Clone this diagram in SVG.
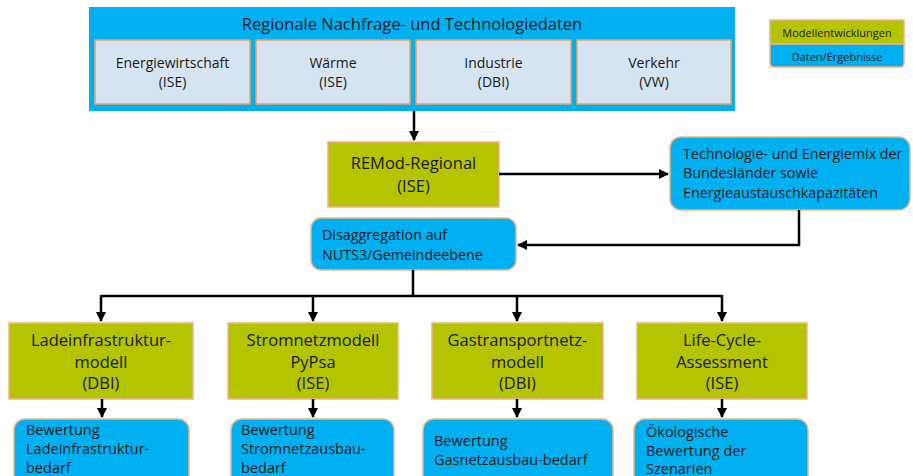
<svg xmlns="http://www.w3.org/2000/svg" width="913" height="476" viewBox="0 0 913 476">
<defs>
<marker id="ah" viewBox="0 0 10 10" refX="9" refY="5" markerWidth="4" markerHeight="4" orient="auto" markerUnits="strokeWidth">
<path d="M0,0 L10,5 L0,10 z" fill="#000"/>
</marker>
<style>
text{font-family:"Open Sans","Noto Sans","DejaVu Sans",sans-serif;fill:#1a1a1a}
.c{text-anchor:middle}
.blue{fill:#00B0F0}
.bluen{fill:#00B0F0;stroke:#F4B183;stroke-width:1.5}
.green{fill:#B4C400;stroke:#F4B183;stroke-width:1.5}
.light{fill:#D6E4F2;stroke:#F0A060;stroke-width:1.5}
.conn{fill:none;stroke:#000;stroke-width:2.5}
.t16{font-size:16.5px}
.t14{font-size:14px}
.t15{font-size:14.5px}
.t13{font-size:14.3px}
.t11{font-size:11px}
</style>
</defs>
<rect width="913" height="476" fill="#fff"/>

<g id="top">
<rect x="89" y="7" width="646" height="104" class="blue"/>
<text x="412" y="30" class="c t16">Regionale Nachfrage- und Technologiedaten</text>
</g>
<g id="energie">
<rect x="95" y="40" width="155" height="64" class="light"/>
<text x="172.5" y="68" class="c t14">Energiewirtschaft</text>
<text x="172.5" y="87" class="c t14">(ISE)</text>
</g>
<g id="waerme">
<rect x="256" y="40" width="154" height="64" class="light"/>
<text x="333" y="68" class="c t14">Wärme</text>
<text x="333" y="87" class="c t14">(ISE)</text>
</g>
<g id="industrie">
<rect x="416" y="40" width="155" height="64" class="light"/>
<text x="493.5" y="68" class="c t14">Industrie</text>
<text x="493.5" y="87" class="c t14">(DBI)</text>
</g>
<g id="verkehr">
<rect x="577" y="40" width="154" height="64" class="light"/>
<text x="654" y="68" class="c t14">Verkehr</text>
<text x="654" y="87" class="c t14">(VW)</text>
</g>

<g id="legend">
<rect x="770" y="20" width="134" height="24" class="green"/>
<text x="837" y="37" class="c t11">Modellentwicklungen</text>
<path d="M770,44 H904 V63 Q904,67 900,67 H774 Q770,67 770,63 Z" class="bluen"/>
<text x="837" y="61" class="c t11">Daten/Ergebnisse</text>
</g>

<g id="remod">
<rect x="328" y="142" width="171" height="65" class="green"/>
<text x="413.5" y="169" class="c t16">REMod-Regional</text>
<text x="413.5" y="192" class="c t16">(ISE)</text>
</g>

<g id="techmix">
<rect x="670" y="137" width="240" height="73" rx="11" class="bluen"/>
<text x="683" y="159" class="t13">Technologie- und Energiemix der</text>
<text x="683" y="178" class="t13">Bundesländer sowie</text>
<text x="683" y="198" class="t13">Energieaustauschkapazitäten</text>
</g>

<g id="disagg">
<rect x="311" y="218" width="205" height="52" rx="10" class="bluen"/>
<text x="322" y="240" class="t13">Disaggregation auf</text>
<text x="322" y="260" class="t13">NUTS3/Gemeindeebene</text>
</g>

<g id="lade">
<rect x="9" y="323" width="184" height="76" class="green"/>
<text x="101" y="346" class="c t16">Ladeinfrastruktur-</text>
<text x="101" y="368" class="c t16">modell</text>
<text x="101" y="389" class="c t16">(DBI)</text>
</g>
<g id="strom">
<rect x="228" y="323" width="170" height="76" class="green"/>
<text x="313" y="346" class="c t16">Stromnetzmodell</text>
<text x="313" y="368" class="c t16">PyPsa</text>
<text x="313" y="389" class="c t16">(ISE)</text>
</g>
<g id="gas">
<rect x="432" y="323" width="171" height="76" class="green"/>
<text x="517.5" y="346" class="c t16">Gastransportnetz-</text>
<text x="517.5" y="368" class="c t16">modell</text>
<text x="517.5" y="389" class="c t16">(DBI)</text>
</g>
<g id="lca">
<rect x="637" y="323" width="170" height="76" class="green"/>
<text x="722" y="346" class="c t16">Life-Cycle-</text>
<text x="722" y="368" class="c t16">Assessment</text>
<text x="722" y="389" class="c t16">(ISE)</text>
</g>

<g id="bew_lade">
<rect x="14" y="419" width="175" height="80" rx="11" class="bluen"/>
<text x="26" y="435" class="t15">Bewertung</text>
<text x="26" y="454" class="t15">Ladeinfrastruktur-</text>
<text x="26" y="473" class="t15">bedarf</text>
</g>
<g id="bew_strom">
<rect x="231" y="419" width="163" height="80" rx="11" class="bluen"/>
<text x="241" y="435" class="t15">Bewertung</text>
<text x="241" y="454" class="t15">Stromnetzausbau-</text>
<text x="241" y="473" class="t15">bedarf</text>
</g>
<g id="bew_gas">
<rect x="423" y="419" width="190" height="80" rx="11" class="bluen"/>
<text x="434" y="446" class="t15">Bewertung</text>
<text x="434" y="465" class="t15">Gasnetzausbau-bedarf</text>
</g>
<g id="bew_lca">
<rect x="634" y="419" width="174" height="80" rx="11" class="bluen"/>
<text x="646" y="437" class="t15">Ökologische</text>
<text x="646" y="456" class="t15">Bewertung der</text>
<text x="646" y="474" class="t15">Szenarien</text>
</g>

<g id="connectors">
<path d="M414,111 V140" class="conn" marker-end="url(#ah)"/>
<path d="M499,174 H668" class="conn" marker-end="url(#ah)"/>
<path d="M799,210 V245 H518" class="conn" marker-end="url(#ah)"/>
<path d="M413,270 V296" class="conn"/>
<path d="M101,296 H722" class="conn"/>
<path d="M101,295 V321" class="conn" marker-end="url(#ah)"/>
<path d="M313,295 V321" class="conn" marker-end="url(#ah)"/>
<path d="M517,295 V321" class="conn" marker-end="url(#ah)"/>
<path d="M722,295 V321" class="conn" marker-end="url(#ah)"/>
<path d="M102,399 V417" class="conn" marker-end="url(#ah)"/>
<path d="M313,399 V417" class="conn" marker-end="url(#ah)"/>
<path d="M517,399 V417" class="conn" marker-end="url(#ah)"/>
<path d="M722,399 V417" class="conn" marker-end="url(#ah)"/>
</g>
</svg>
